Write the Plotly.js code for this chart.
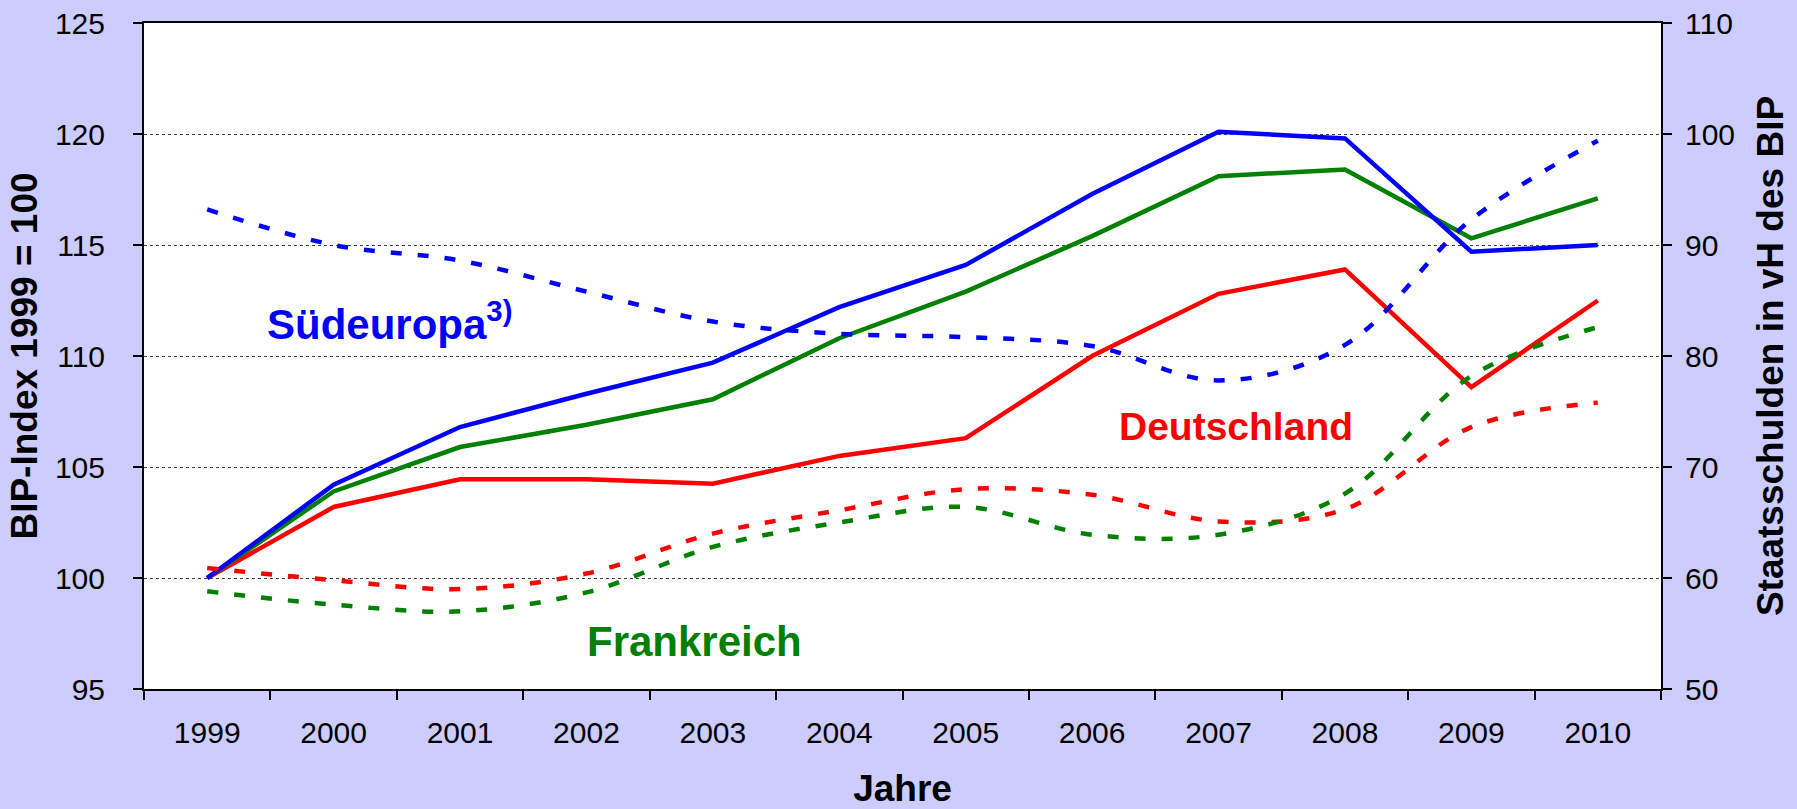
<!DOCTYPE html>
<html>
<head>
<meta charset="utf-8">
<script src="https://cdn.plot.ly/plotly-3.0.1.min.js"></script>
<style>
  html, body { margin: 0; padding: 0; background: #ccccff; }
  #chart { width: 1797px; height: 809px; }
</style>
</head>
<body>
<div id="chart"></div>
<script>
var years = ['1999', '2000', '2001', '2002', '2003', '2004', '2005', '2006', '2007', '2008', '2009', '2010'];

// BIP-Index 1999 = 100 (left axis, solid lines)
var bipSued = [100, 104.2, 106.8, 108.3, 109.7, 112.2, 114.1, 117.3, 120.1, 119.8, 114.7, 115.0];
var bipFra = [100, 103.9, 105.9, 106.9, 108.05, 110.8, 112.9, 115.4, 118.1, 118.4, 115.3, 117.1];
var bipDeu = [100, 103.2, 104.45, 104.45, 104.25, 105.5, 106.3, 110.0, 112.8, 113.9, 108.6, 112.5];

// Staatsschulden in vH des BIP (right axis, dashed lines)
var schuldSued = [93.2, 90.0, 88.6, 85.8, 83.1, 82.0, 81.7, 80.9, 77.8, 81.0, 92.3, 99.4];
var schuldDeu = [60.9, 59.8, 59.0, 60.4, 64.0, 66.1, 68.0, 67.5, 65.1, 66.2, 73.6, 75.8];
var schuldFra = [58.8, 57.6, 57.0, 58.7, 62.8, 65.0, 66.4, 63.9, 63.9, 67.6, 78.2, 82.6];

var blau = '#0000ff', gruen = '#008000', rot = '#ff0000';
var fontFam = 'Liberation Sans, Arial, sans-serif';

function dashed(y, color) {
    return {
        x: years, y: y, yaxis: 'y2', type: 'scatter', mode: 'lines',
        line: { color: color, width: 4.5, dash: '11px,16px', shape: 'spline', smoothing: 1 }
    };
}
function solid(y, color) {
    return {
        x: years, y: y, type: 'scatter', mode: 'lines',
        line: { color: color, width: 4.5 }
    };
}

var data = [
    dashed(schuldSued, blau),
    dashed(schuldDeu, rot),
    dashed(schuldFra, gruen),
    solid(bipDeu, rot),
    solid(bipFra, gruen),
    solid(bipSued, blau)
];

var layout = {
    width: 1797,
    height: 809,
    paper_bgcolor: '#ccccff',
    plot_bgcolor: '#ffffff',
    showlegend: false,
    hovermode: false,
    font: { family: fontFam, color: '#000000', size: 30 },
    margin: { l: 144, r: 136, t: 23, b: 120 },
    xaxis: {
        type: 'category',
        range: [-0.5, 11.5],
        tickson: 'boundaries',
        ticks: 'outside', ticklen: 9, tickwidth: 2, tickcolor: '#000',
        showline: true, linecolor: '#000', linewidth: 2, mirror: true,
        showgrid: false,
        tickfont: { size: 30 },
        ticklabelstandoff: 16,
        title: { text: '<b>Jahre</b>', font: { size: 37 }, standoff: 30 }
    },
    yaxis: {
        range: [95, 125], dtick: 5,
        ticks: 'outside', ticklen: 9, tickwidth: 2, tickcolor: '#000',
        showline: true, linecolor: '#000', linewidth: 2,
        showgrid: true, gridcolor: '#444', gridwidth: 1, griddash: 'dot',
        zeroline: false,
        tickfont: { size: 30 },
        ticklabelstandoff: 22,
        title: { text: '<b>BIP-Index 1999 = 100</b>', font: { size: 37 }, standoff: 6 }
    },
    yaxis2: {
        overlaying: 'y', side: 'right',
        range: [50, 110], dtick: 10,
        ticks: 'outside', ticklen: 9, tickwidth: 2, tickcolor: '#000',
        showline: true, linecolor: '#000', linewidth: 2,
        showgrid: false, zeroline: false,
        tickfont: { size: 30 },
        ticklabelstandoff: 7,
        title: { text: '<b>Staatsschulden in vH des BIP</b>', font: { size: 37 }, standoff: 23 }
    },
    annotations: [
        {
            text: '<b>Südeuropa<sup>3)</sup></b>', xref: 'paper', yref: 'paper',
            x: 0.0798, y: 0.5526, xanchor: 'left', yanchor: 'middle',
            showarrow: false, font: { size: 42, color: blau }
        },
        {
            text: '<b>Deutschland</b>', xref: 'paper', yref: 'paper',
            x: 0.7199, y: 0.3945, xanchor: 'center', yanchor: 'middle',
            showarrow: false, font: { size: 39, color: rot }
        },
        {
            text: '<b>Frankreich</b>', xref: 'paper', yref: 'paper',
            x: 0.3626, y: 0.0706, xanchor: 'center', yanchor: 'middle',
            showarrow: false, font: { size: 42, color: gruen }
        }
    ]
};

Plotly.newPlot('chart', data, layout, { displayModeBar: false, staticPlot: true });
</script>
</body>
</html>
